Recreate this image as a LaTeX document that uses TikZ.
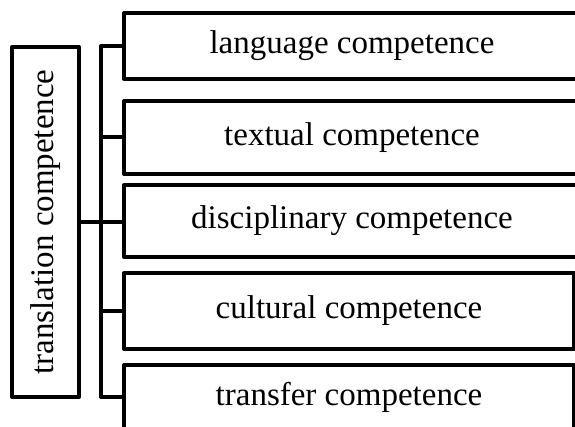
\documentclass[tikz,border=0pt]{standalone}
\usepackage{fontspec}
\setmainfont{Liberation Serif}
\begin{document}
\begin{tikzpicture}[x=1pt,y=-1pt,
  frame/.style={draw=black, line width=4pt, line join=round, inner sep=0pt, outer sep=0pt,
    anchor=north west, font=\fontsize{33}{36}\selectfont},
  link/.style={draw=black, line width=4pt, line join=round}]
\useasboundingbox (0,0) rectangle (575,427);
\clip (0,0) rectangle (575,427);

% main concept, set vertically (its south side faces right)
\node[frame, anchor=center, minimum width=350pt, minimum height=67pt, rotate=90]
  (tc) at (45.5,222) {translation competence};

% the five component competences
\node[frame, minimum width=456pt, minimum height=66pt] (b1) at (124,13) {language competence};
\node[frame, minimum width=456pt, minimum height=73pt] (b2) at (124,101) {textual competence};
\node[frame, minimum width=456pt, minimum height=72pt] (b3) at (124,185) {disciplinary competence};
\node[frame, minimum width=450pt, minimum height=76pt] (b4) at (124,273) {cultural competence};
\node[frame, minimum width=450pt, minimum height=64pt] (b5) at (124,365) {transfer competence};

% bracket joining the main concept to its components
\coordinate (brk) at (101,222);
\draw[link] (b1.west) -- (b1.west -| brk) -- (b5.west -| brk) -- (b5.west);
\draw[link] (b2.west) -- (b2.west -| brk);
\draw[link] (b4.west) -- (b4.west -| brk);
\draw[link] (tc.south) -- (brk) -- (brk -| b3.west);
\end{tikzpicture}
\end{document}
